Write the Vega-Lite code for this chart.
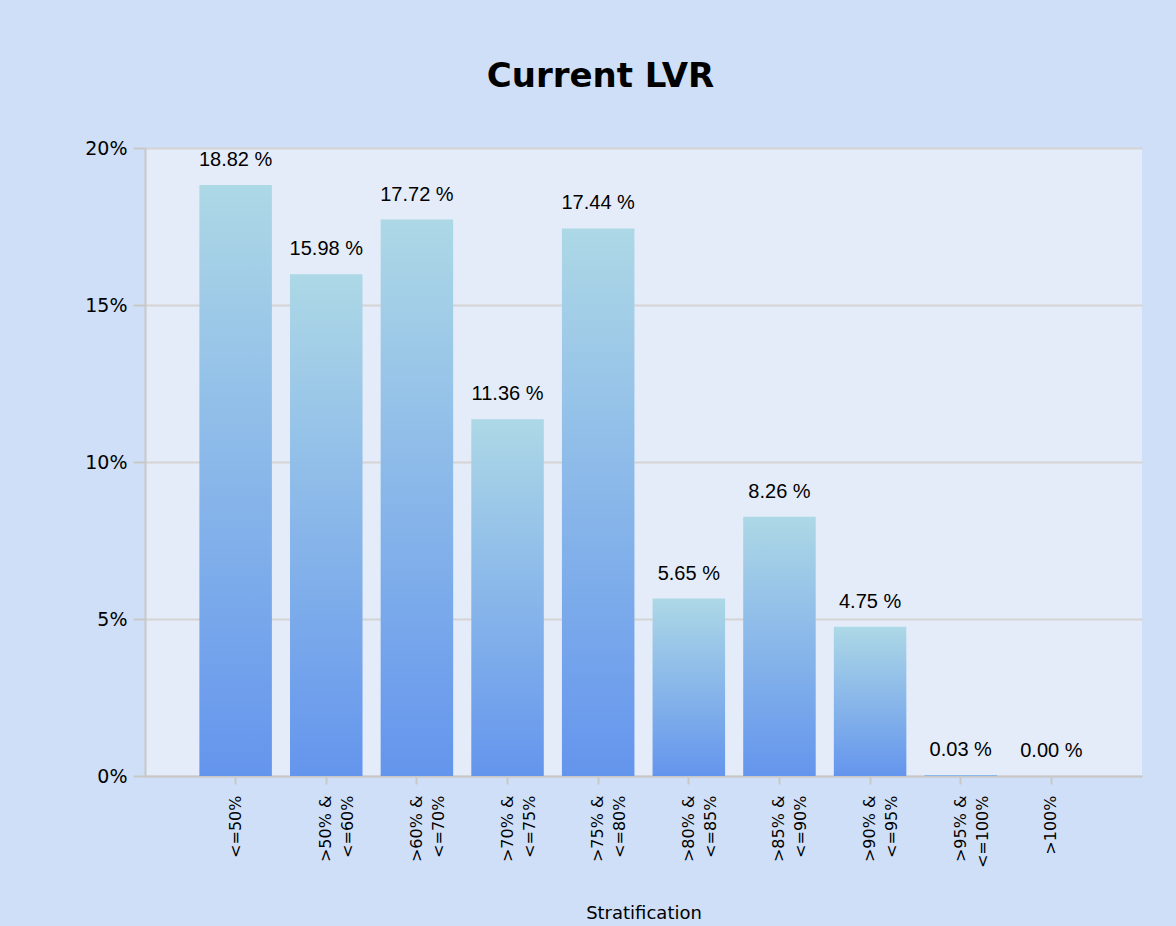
{
  "$schema": "https://vega.github.io/schema/vega-lite/v6.json",
  "width": 997,
  "height": 628,
  "autosize": {"type": "none"},
  "padding": {"left": 145, "top": 148, "right": 34, "bottom": 150},
  "background": "#cfdff7",
  "title": {
    "text": "Current LVR",
    "font": "DejaVu Sans",
    "fontSize": 34,
    "fontWeight": "bold",
    "color": "#000000",
    "dx": -43,
    "offset": 45
  },
  "data": {
    "values": [
      {"stratum": "<=50%", "pct": 18.82},
      {"stratum": ">50% & <=60%", "pct": 15.98},
      {"stratum": ">60% & <=70%", "pct": 17.72},
      {"stratum": ">70% & <=75%", "pct": 11.36},
      {"stratum": ">75% & <=80%", "pct": 17.44},
      {"stratum": ">80% & <=85%", "pct": 5.65},
      {"stratum": ">85% & <=90%", "pct": 8.26},
      {"stratum": ">90% & <=95%", "pct": 4.75},
      {"stratum": ">95% & <=100%", "pct": 0.03},
      {"stratum": ">100%", "pct": 0.0}
    ]
  },
  "transform": [
    {"calculate": "format(datum.pct, '.2f') + ' %'", "as": "lbl"}
  ],
  "encoding": {
    "x": {
      "field": "stratum",
      "type": "nominal",
      "sort": null,
      "scale": {"paddingInner": 0.2, "paddingOuter": 0.6},
      "title": "Stratification",
      "axis": {
        "labelExpr": "split(replace(datum.label, '& ', '&|'), '|')",
        "labelAngle": 270,
        "labelAlign": "right",
        "labelBaseline": "middle",
        "labelLineHeight": 22,
        "labelFont": "DejaVu Sans",
        "labelFontSize": 16,
        "labelColor": "#000000",
        "labelPadding": 11,
        "tickSize": 8,
        "tickColor": "#c8c8c8",
        "tickWidth": 2,
        "domainColor": "#c8c8c8",
        "domainWidth": 2,
        "titleFont": "DejaVu Sans",
        "titleFontSize": 18,
        "titleFontWeight": "normal",
        "titleColor": "#000000",
        "titlePadding": 37
      }
    },
    "y": {
      "field": "pct",
      "type": "quantitative",
      "scale": {"domain": [0, 20], "nice": false},
      "title": null,
      "axis": {
        "values": [0, 5, 10, 15, 20],
        "labelExpr": "datum.value + '%'",
        "labelFont": "DejaVu Sans",
        "labelFontSize": 19,
        "labelColor": "#000000",
        "labelPadding": 6,
        "tickSize": 12,
        "tickColor": "#c8c8c8",
        "tickWidth": 2,
        "domainColor": "#c8c8c8",
        "domainWidth": 2,
        "gridColor": "#d4d4d4",
        "gridWidth": 2
      }
    }
  },
  "layer": [
    {
      "mark": {
        "type": "bar",
        "color": {
          "gradient": "linear",
          "x1": 0, "y1": 0, "x2": 0, "y2": 1,
          "stops": [
            {"offset": 0, "color": "#add8e6"},
            {"offset": 1, "color": "#6495ed"}
          ]
        }
      }
    },
    {
      "mark": {
        "type": "text",
        "dy": -25,
        "font": "Liberation Sans",
        "fontSize": 20,
        "color": "#000000"
      },
      "encoding": {"text": {"field": "lbl"}}
    }
  ],
  "config": {
    "view": {"fill": "#e4ecf9", "stroke": null}
  }
}
